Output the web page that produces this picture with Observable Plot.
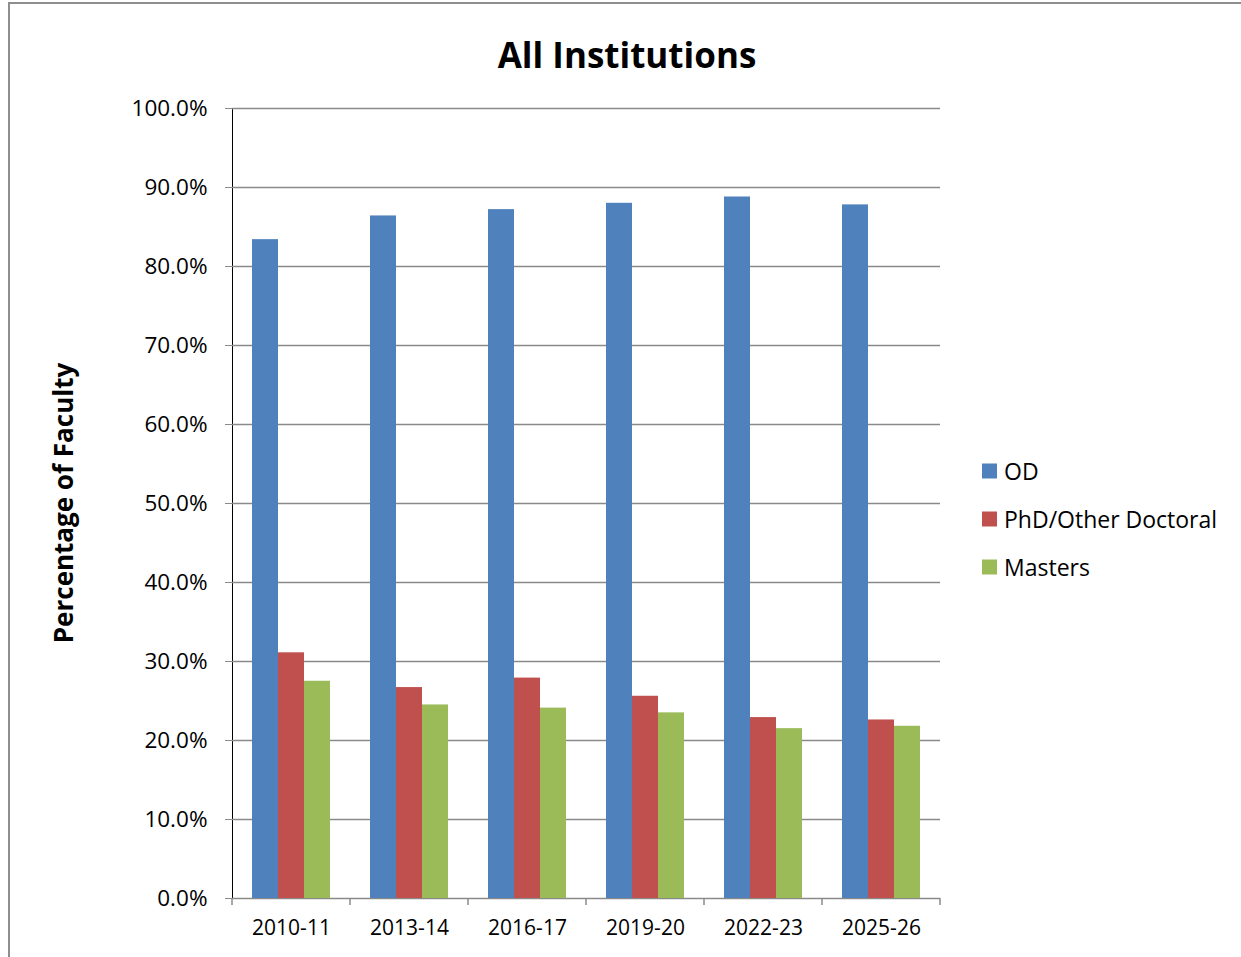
<!DOCTYPE html>
<html><head><meta charset="utf-8">
<script src="https://cdn.jsdelivr.net/npm/d3@7"></script>
<script src="https://cdn.jsdelivr.net/npm/@observablehq/plot@0.6"></script>
<style>
body{margin:0;background:#fff;font-family:"Open Sans",sans-serif;}
#wrap{position:relative;width:1241px;height:957px;overflow:hidden;background:#fff;}
#border{position:absolute;left:8px;top:2px;width:1300px;height:1000px;border-top:2px solid #8e8e8e;border-left:2px solid #8e8e8e;box-sizing:border-box;}
#chart{position:absolute;left:0;top:0;}
#title{position:absolute;left:0;width:1254px;top:37px;text-align:center;font-weight:bold;font-size:35px;line-height:1;color:#000;}
#ylabel{position:absolute;left:63px;top:503px;transform:translate(-50%,-50%) rotate(-90deg);white-space:nowrap;font-weight:bold;font-size:26px;line-height:1;color:#000;}
#legend{position:absolute;left:982px;top:0;}
.item{position:absolute;left:0;white-space:nowrap;font-size:23px;line-height:1;display:flex;align-items:center;transform:translateY(-50%);}
.sw{width:15px;height:15px;margin-right:7px;display:inline-block;}
[aria-label^="y-axis"] path,[aria-label^="y-axis"] line{stroke:#8a8a8a;}
</style>
</head><body>
<div id="wrap">
  <div id="border"></div>
  <div id="chart"></div>
  <div id="title"></div>
  <div id="ylabel"></div>
  <div id="legend"></div>
</div>
<script>
const titleText = "All Institutions";
const yLabelText = "Percentage of Faculty";
const years = ["2010-11", "2013-14", "2016-17", "2019-20", "2022-23", "2025-26"];
const seriesNames = ["OD", "PhD/Other Doctoral", "Masters"];
const seriesColors = ["#4F81BD", "#C0504D", "#9BBB59"];
const odValues = [83.4, 86.4, 87.2, 88.0, 88.8, 87.8];
const phdValues = [31.1, 26.7, 27.9, 25.6, 22.9, 22.6];
const mastersValues = [27.5, 24.5, 24.1, 23.5, 21.5, 21.8];
const yTicks = [0, 10, 20, 30, 40, 50, 60, 70, 80, 90, 100];

const valuesBySeries = [odValues, phdValues, mastersValues];
const table = [];
years.forEach((yr, i) => {
  seriesNames.forEach((s, j) => table.push({year: yr, series: s, value: valuesBySeries[j][i]}));
});

const plot = Plot.plot({
  width: 1241,
  height: 957,
  marginLeft: 232,
  marginRight: 301,
  marginTop: 108,
  marginBottom: 59,
  style: {fontFamily: "'Open Sans', sans-serif", fontSize: "21px", color: "#000", background: "transparent", overflow: "visible"},
  fx: {domain: years, padding: 0, axis: "bottom", tickSize: 0, tickPadding: 22, label: null},
  x: {domain: seriesNames, axis: null, paddingInner: 0, paddingOuter: 0.74},
  y: {domain: [0, 100], ticks: yTicks, tickFormat: d => d.toFixed(1) + "%", tickSize: 7, tickPadding: 18, label: null, line: true},
  color: {domain: seriesNames, range: seriesColors},
  marks: [
    Plot.ruleY(yTicks, {stroke: "#8a8a8a", strokeWidth: 1.5}),
    Plot.barY(table, {fx: "year", x: "series", y: "value", fill: "series"})
  ]
});
document.getElementById("chart").appendChild(plot);
d3.select(plot).selectAll('[aria-label^="y-axis"] text').style("font-size", "22.5px");

// boundary ticks on the category axis, positioned with Plot's own scales
const fx = plot.scale("fx");
const ys = plot.scale("y");
const y0 = ys.apply(0);
const bounds = years.map(y => fx.apply(y)).concat([fx.apply(years[years.length - 1]) + fx.bandwidth]);
const svg = d3.select(plot);
svg.append("g").selectAll("line").data(bounds).join("line")
  .attr("x1", d => d).attr("x2", d => d)
  .attr("y1", y0).attr("y2", y0 + 7)
  .attr("stroke", "#8a8a8a").attr("stroke-width", 1.5);

document.getElementById("title").textContent = titleText;
document.getElementById("ylabel").textContent = yLabelText;
const legendTops = [471, 519, 567];
const legend = d3.select("#legend");
seriesNames.forEach((s, i) => {
  const it = legend.append("div").attr("class", "item").style("top", legendTops[i] + "px");
  it.append("span").attr("class", "sw").style("background", seriesColors[i]);
  it.append("span").text(s);
});
</script>
</body></html>
